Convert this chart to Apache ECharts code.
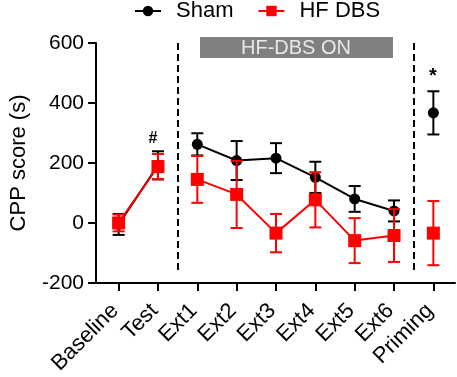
<!DOCTYPE html>
<html>
<head>
<meta charset="utf-8">
<script src="https://cdn.jsdelivr.net/npm/echarts@6/dist/echarts.min.js"></script>
<style>html,body{margin:0;padding:0;background:#fff}#c{width:457px;height:377px}</style>
</head>
<body>
<div id="c"></div>
<script>
const categories = ['Baseline','Test','Ext1','Ext2','Ext3','Ext4','Ext5','Ext6','Priming'];
const shamMean = [-5, 192, 262, 208, 216, 152, 80, 40, 367];
const shamErr  = [35, 47, 37, 65, 50, 52, 43, 35, 72];
const hfMean   = [0, 188, 145, 95, -34, 77, -59, -42, -34];
const hfErr    = [28, 42, 78, 112, 64, 92, 75, 88, 107];
const breakAfter = [1, 7];
const yTicks = [-200, 0, 200, 400, 600];
const dashedAt = [1.5, 7.5];

const FONT = 'Liberation Sans, Arial, sans-serif';

function lineData(means) {
  const d = [];
  means.forEach((m, i) => {
    d.push([i, m]);
    if (breakAfter.includes(i)) d.push([i + 0.5, null]);
  });
  return d;
}
function errData(means, errs) {
  return means.map((m, i) => [i, m, errs[i]]);
}
function errRender(color) {
  return function (params, api) {
    const x = api.value(0), m = api.value(1), e = api.value(2);
    const t = api.coord([x, m + e]), b = api.coord([x, m - e]);
    const hw = 6;
    const st = { stroke: color, lineWidth: 2 };
    return { type: 'group', children: [
      { type: 'line', shape: { x1: t[0], y1: t[1], x2: b[0], y2: b[1] }, style: st },
      { type: 'line', shape: { x1: t[0] - hw, y1: t[1], x2: t[0] + hw, y2: t[1] }, style: st },
      { type: 'line', shape: { x1: b[0] - hw, y1: b[1], x2: b[0] + hw, y2: b[1] }, style: st }
    ]};
  };
}

const chart = echarts.init(document.getElementById('c'));
chart.setOption({
  animation: false,
  textStyle: { fontFamily: FONT },
  grid: { left: 90, right: 2, top: 43, height: 240 },
  legend: {
    data: ['Sham', 'HF DBS'], top: 0, left: 134, padding: 0,
    itemWidth: 26, itemHeight: 13, itemGap: 24,
    textStyle: { fontSize: 22, color: '#000', fontFamily: FONT, padding: [0, 0, 0, 10] }
  },
  xAxis: {
    type: 'value', min: -0.575, max: 8.55,
    splitLine: { show: false },
    axisLine: { onZero: false, lineStyle: { color: '#000', width: 2 } },
    axisTick: { show: true, length: 8, lineStyle: { color: '#000', width: 2 }, customValues: categories.map((c, i) => i) },
    axisLabel: { rotate: 45, fontSize: 22, color: '#000', margin: 21, padding: [0, 5, 0, 0], fontFamily: FONT,
      customValues: categories.map((c, i) => i),
      formatter: v => categories[Math.round(v)] }
  },
  yAxis: {
    type: 'value', min: yTicks[0], max: yTicks[yTicks.length - 1], interval: 200,
    name: 'CPP score (s)', nameLocation: 'middle', nameGap: 66,
    nameTextStyle: { fontSize: 22, color: '#000', fontFamily: FONT },
    splitLine: { show: false },
    axisLine: { show: true, onZero: false, lineStyle: { color: '#000', width: 2 } },
    axisTick: { show: true, length: 8, lineStyle: { color: '#000', width: 2 } },
    axisLabel: { fontSize: 21, color: '#000', margin: 12, fontFamily: FONT }
  },
  graphic: [
    { type: 'rect', shape: { x: 200, y: 37, width: 193, height: 21 }, style: { fill: '#808080' } },
    { type: 'text', x: 296, y: 48, style: { text: 'HF-DBS ON', fill: '#e8e8e8', font: '20px ' + FONT, align: 'center', verticalAlign: 'middle' } },
    { type: 'text', x: 153, y: 139, style: { text: '#', fill: '#000', font: 'bold 16px ' + FONT, align: 'center', verticalAlign: 'middle' } },
    { type: 'text', x: 433, y: 76, style: { text: '*', fill: '#000', font: 'bold 20px ' + FONT, align: 'center', verticalAlign: 'middle' } }
  ],
  series: [
    { type: 'custom', name: 'shamErr', renderItem: errRender('#000'), data: errData(shamMean, shamErr), z: 2, silent: true },
    { type: 'line', name: 'Sham', data: lineData(shamMean), symbol: 'circle', symbolSize: 11,
      itemStyle: { color: '#000' }, lineStyle: { color: '#000', width: 2 }, z: 3,
      markLine: { silent: true, symbol: 'none', label: { show: false },
        lineStyle: { color: '#000', width: 2, type: [7, 4] },
        data: dashedAt.map(x => [{ coord: [x, 600] }, { coord: [x, -170] }]) } },
    { type: 'custom', name: 'hfErr', renderItem: errRender('#ff0000'), data: errData(hfMean, hfErr), z: 4, silent: true },
    { type: 'line', name: 'HF DBS', data: lineData(hfMean), symbol: 'rect', symbolSize: 13,
      itemStyle: { color: '#ff0000' }, lineStyle: { color: '#ff0000', width: 2 }, z: 5 }
  ]
});
</script>
</body>
</html>
